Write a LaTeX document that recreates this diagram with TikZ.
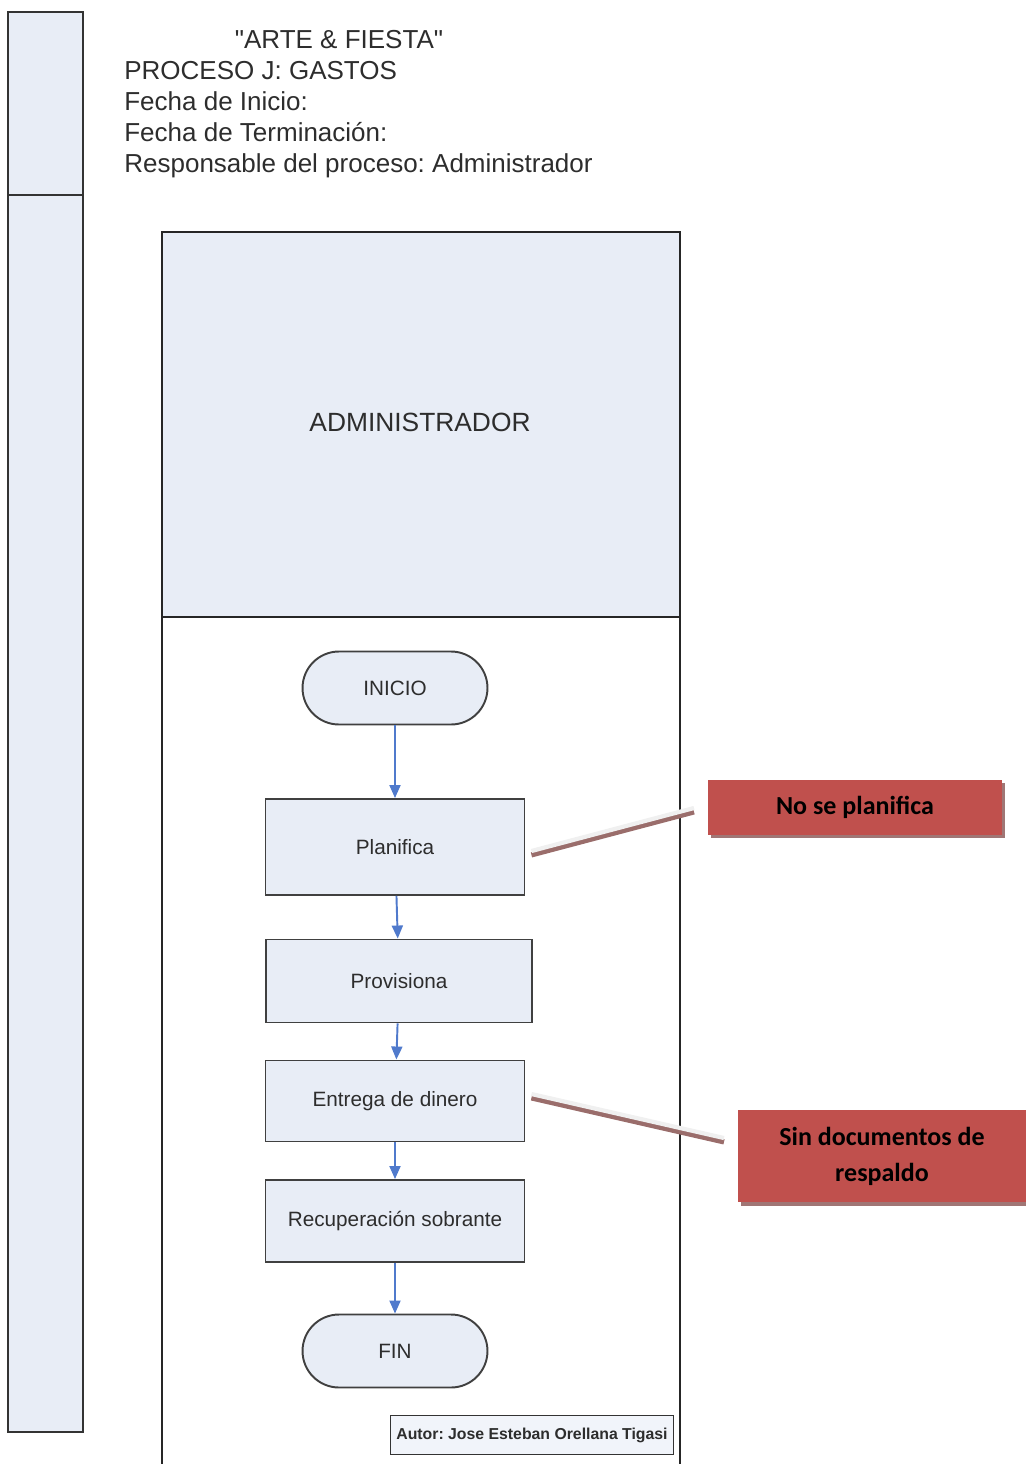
\documentclass[tikz,border=0pt]{standalone}
\usepackage{fontspec}
\setmainfont{Liberation Sans}[Ligatures=TeXOff]
\newfontfamily\notefont{Carlito}
\frenchspacing
\definecolor{laneblue}{RGB}{232,237,246}
\definecolor{flowblue}{RGB}{80,122,204}
\definecolor{notered}{RGB}{192,80,77}
\definecolor{shadowred}{RGB}{120,60,58}
\definecolor{textgray}{RGB}{45,45,45}
\usepackage{tikz}
\usetikzlibrary{arrows.meta,positioning,calc,shadows}

\begin{document}
\begin{tikzpicture}[
            x=0.02cm, y=-0.02cm,
            >={Triangle[length=0.26cm,width=0.22cm]},
            text=textgray,
            head text/.style={font=\fontsize{14.8}{17.6}\selectfont,anchor=base west,inner sep=0pt},
            proc node/.style={rectangle,fill=laneblue,draw=black!75,line width=1.1pt,font=\fontsize{11.8}{14}\selectfont},
            term node/.style={proc node,rounded corners=0.73cm,minimum width=3.7cm,minimum height=1.46cm},
            note node/.style={rectangle,fill=notered,text=black,align=center,
                copy shadow={shadow xshift=0.06cm,shadow yshift=-0.07cm,fill=shadowred!70,draw=none},
                font=\notefont\bfseries\fontsize{14.8}{20.5}\selectfont},
            note line/.style={line width=2.4pt,draw=black!6,
                preaction={draw=shadowred!75,line width=3pt,transform canvas={yshift=-2.2pt}}},
            flow/.style={->,draw=flowblue,line width=1.1pt}
        ]
            \useasboundingbox (0,0) rectangle (1026,1464);

            \draw[fill=laneblue,draw=black!80,line width=1.2pt] (8,12) rectangle (83,195);
            \draw[fill=laneblue,draw=black!80,line width=1.2pt] (8,195) rectangle (83,1432);

            \node[head text,anchor=base] (empresa) at (339,48.5) {"ARTE \& FIESTA"};
            \node[head text] (proceso) at (124,79.5) {PROCESO J: GASTOS};
            \node[head text] (inicio) at (124,110.5) {Fecha de Inicio:};
            \node[head text] (termino) at (124,141.5) {Fecha de Terminación:};
            \node[head text] (resp) at (124,172.5) {Responsable del proceso: Administrador};

            \fill[laneblue] (162,232) rectangle (680,617);
            \draw[black!85,line width=1.2pt] (162,1470) -- (162,232) -- (680,232) -- (680,1470);
            \draw[black!85,line width=1.2pt] (162,617) -- (680,617);
            \node[font=\fontsize{15}{18}\selectfont] (admin) at (420,422) {ADMINISTRADOR};

            \node[term node] (start) at (395,688) {INICIO};
            \node[proc node,minimum width=5.18cm,minimum height=1.92cm] (plan) at (395,847) {Planifica};
            \node[proc node,minimum width=5.32cm,minimum height=1.66cm] (prov) at (399,981) {Provisiona};
            \node[proc node,minimum width=5.18cm,minimum height=1.62cm] (entrega) at (395,1101) {Entrega de dinero};
            \node[proc node,minimum width=5.18cm,minimum height=1.64cm] (recup) at (395,1221) {Recuperación sobrante};
            \node[term node] (fin) at (395,1351) {FIN};

            \draw[flow] (start) -- (plan);
            \draw[flow] (plan) -- (prov);
            \draw[flow] (prov) -- (entrega);
            \draw[flow] (entrega) -- (recup);
            \draw[flow] (recup) -- (fin);

            \node[note node,minimum width=5.88cm,minimum height=1.1cm] (nota1) at (855,807) {No se planifica};
            \node[note node,minimum width=5.78cm,minimum height=1.84cm] (nota2) at (882,1156) {Sin documentos de\\respaldo};

            \coordinate (c1) at (694,808);
            \coordinate (c2) at (724,1138);
            \draw[note line] ([xshift=0.12cm,yshift=-0.08cm]plan.east) -- (c1);
            \draw[note line] ([xshift=0.12cm,yshift=0.14cm]entrega.east) -- (c2);

            \node[rectangle,fill=laneblue!60,draw=black!80,line width=1.1pt,minimum width=5.6cm,minimum height=0.78cm,
                font=\bfseries\fontsize{9}{11}\selectfont] (autor) at (532,1435) {Autor: Jose Esteban Orellana Tigasi};
        \end{tikzpicture}
\end{document}
